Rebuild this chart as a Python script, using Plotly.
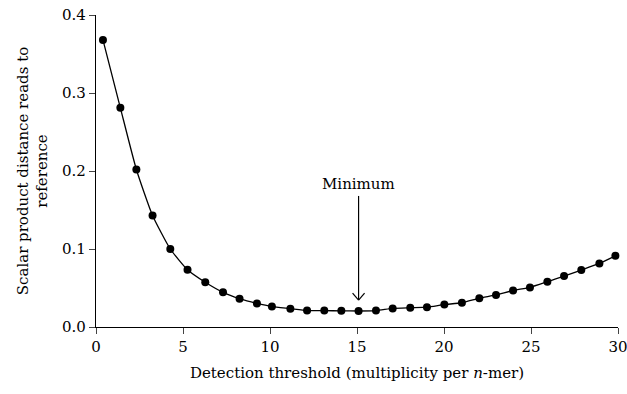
import plotly.graph_objects as go

# Data
threshold = [0.40, 1.40, 2.32, 3.25, 4.27, 5.26, 6.28, 7.30, 8.25, 9.25,
             10.11, 11.17, 12.13, 13.12, 14.10, 15.09, 16.09, 17.05, 18.06, 19.02,
             20.02, 21.03, 22.03, 22.99, 23.97, 24.94, 25.94, 26.90, 27.89, 28.93,
             29.85]
distance = [0.368, 0.281, 0.202, 0.143, 0.100, 0.0734, 0.0573, 0.0444, 0.0363, 0.0302,
            0.0262, 0.0235, 0.0210, 0.0210, 0.0207, 0.0205, 0.0210, 0.0238, 0.0247, 0.0254,
            0.0287, 0.0311, 0.0368, 0.0411, 0.0468, 0.0508, 0.0580, 0.0653, 0.0730, 0.0815,
            0.0912]
x_ticks = [0, 5, 10, 15, 20, 25, 30]
y_ticks = [0.0, 0.1, 0.2, 0.3, 0.4]

FONT = "DejaVu Serif"
FS = 15

fig = go.Figure()
fig.add_trace(go.Scatter(
    x=threshold, y=distance, mode="lines+markers",
    line=dict(color="black", width=1.3, shape="spline", smoothing=0.5),
    marker=dict(color="black", size=8),
    showlegend=False, cliponaxis=False,
))

# Minimum arrow, anchored at the minimum data point
imin = min(range(len(distance)), key=lambda i: distance[i])
xm = threshold[imin]
tip = distance[imin] + 0.014
top = 0.168
fig.add_shape(type="line", x0=xm, x1=xm, y0=tip, y1=top, xref="x", yref="y",
              line=dict(color="black", width=1.2))
for dx in (-6, 6):
    fig.add_shape(type="line", xref="x", yref="y",
                  xsizemode="pixel", ysizemode="pixel",
                  xanchor=xm, yanchor=tip,
                  x0=0, y0=0, x1=dx, y1=7,
                  line=dict(color="black", width=1.2))
fig.add_annotation(x=xm, y=top, text="Minimum", showarrow=False,
                   xref="x", yref="y", yanchor="bottom", yshift=1,
                   font=dict(family=FONT, size=FS, color="black"))

fig.update_layout(
    width=627, height=394,
    margin=dict(l=96, r=9, t=15, b=67),
    paper_bgcolor="white", plot_bgcolor="white",
    font=dict(family=FONT, size=FS, color="black"),
)
fig.update_xaxes(
    range=[0, 30], tickvals=x_ticks, ticks="outside", ticklen=6, tickwidth=1.2,
    showline=True, linecolor="black", linewidth=1.3, showgrid=False, zeroline=False,
    ticklabeloverflow="allow", automargin=False,
    title=dict(text="Detection threshold (multiplicity per <i>n</i>-mer)",
               font=dict(family=FONT, size=FS), standoff=12),
    tickfont=dict(family=FONT, size=FS),
)
fig.update_yaxes(
    range=[0, 0.4], tickvals=y_ticks, tickformat=".1f", ticks="outside", ticklen=6,
    tickwidth=1.2, showline=True, linecolor="black", linewidth=1.3, showgrid=False,
    zeroline=False, automargin=False,
    title=dict(text="Scalar product distance reads to<br>reference",
               font=dict(family=FONT, size=FS), standoff=10),
    tickfont=dict(family=FONT, size=FS),
)

fig.write_html("out.html")
